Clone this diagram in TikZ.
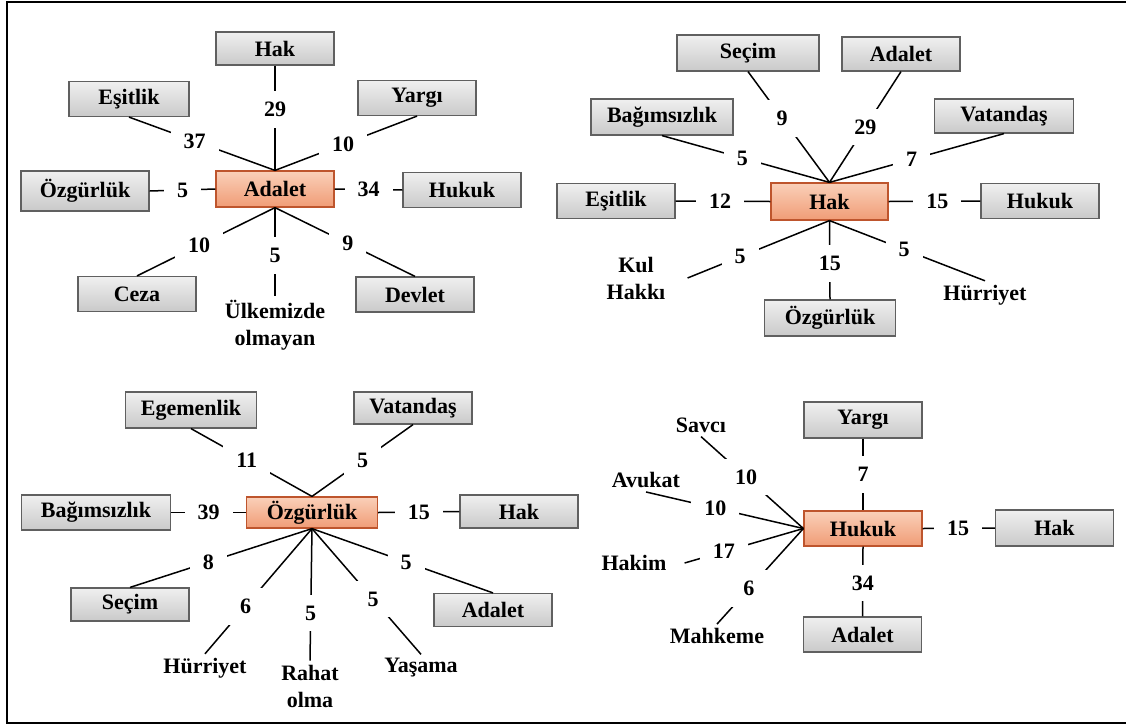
\documentclass[tikz,border=0pt]{standalone}
\usepackage{fontspec}
\setmainfont{Liberation Serif}
\definecolor{hubtop}{RGB}{250,208,185}
\definecolor{hubbottom}{RGB}{240,156,118}
\definecolor{hubline}{RGB}{190,85,45}
\newcommand{\wordfont}{\fontsize{22}{27}\selectfont\bfseries}

\begin{document}
\begin{tikzpicture}[
            x=1pt, y=-1pt,
            every node/.append style={black, font=\wordfont},
            termbox/.style={draw=gray!75!black, line width=1.2pt, top color=gray!12, bottom color=gray!42,
                minimum width=118pt, minimum height=35pt, inner xsep=4pt},
            centerbox/.style={draw=hubline, line width=1.2pt, top color=hubtop, bottom color=hubbottom,
                minimum width=118pt, minimum height=36pt, inner xsep=4pt},
            freq/.style={fill=white, inner xsep=13pt, inner ysep=11pt},
            freeword/.style={align=center, inner sep=4pt},
            link/.style={line width=1.5pt}
        ]
            \useasboundingbox (0,0) rectangle (1126,726);
            \draw[line width=2pt] (1126,1.5) -- (6.5,1.5) -- (6.5,723) -- (1126,723);

            \node[centerbox] (adalet1) at (275,189) {Adalet};
            \node[termbox, minimum height=33pt] (hak1) at (275,48.5) {Hak};
            \node[termbox, minimum width=120pt] (esitlik1) at (129,99) {Eşitlik};
            \node[termbox] (yargi1) at (417,98) {Yargı};
            \node[termbox, minimum width=128pt, minimum height=40pt] (ozgurluk1) at (85,191) {Özgürlük};
            \node[termbox] (hukuk1) at (462,190) {Hukuk};
            \node[termbox] (ceza1) at (137,294) {Ceza};
            \node[termbox] (devlet1) at (415,294.5) {Devlet};
            \node[freeword] (ulkemizde1) at (275,325) {Ülkemizde\\olmayan};
            \draw[link] (hak1.south) -- node[freq, pos=.42]{29} (adalet1.north);
            \draw[link] (esitlik1.south) -- node[freq, pos=.45]{37} (adalet1.north);
            \draw[link] (yargi1.south) -- node[freq, pos=.52]{10} (adalet1.north);
            \draw[link] (ozgurluk1.east) -- node[freq, pos=.5]{5} (adalet1.west);
            \draw[link] (hukuk1.west) -- node[freq, pos=.5]{34} (adalet1.east);
            \draw[link] (ceza1.north) -- node[freq, pos=.45]{10} (adalet1.south);
            \draw[link] (devlet1.north) -- node[freq, pos=.48]{9} (adalet1.south);
            \draw[link] (ulkemizde1.north) -- node[freq, pos=.46]{5} (adalet1.south);

            \node[centerbox, minimum width=117pt, minimum height=37pt] (hak2) at (829.5,201.5) {Hak};
            \node[termbox, minimum width=142pt, minimum height=36pt] (secim2) at (748,53) {Seçim};
            \node[termbox, minimum height=34pt] (adalet2) at (901,54) {Adalet};
            \node[termbox, minimum width=142pt, minimum height=36pt] (bagimsizlik2) at (662,117) {Bağımsızlık};
            \node[termbox, minimum width=139pt, minimum height=34pt] (vatandas2) at (1004,116) {Vatandaş};
            \node[termbox] (esitlik2) at (616,201) {Eşitlik};
            \node[termbox] (hukuk2) at (1040,201) {Hukuk};
            \node[termbox, minimum width=131pt, minimum height=36pt] (ozgurluk2) at (830,318) {Özgürlük};
            \node[freeword] (kulhakki2) at (636,278) {Kul\\Hakkı};
            \node[freeword] (hurriyet2) at (985,295) {Hürriyet};
            \draw[link] (secim2.south) -- node[freq, pos=.42]{9} (hak2.north);
            \draw[link] (adalet2.south) -- node[freq, pos=.5]{29} (hak2.north);
            \draw[link] (bagimsizlik2.south) -- node[freq, pos=.48]{5} (hak2.north);
            \draw[link] (vatandas2.south) -- node[freq, pos=.53]{7} (hak2.north);
            \draw[link] (esitlik2.east) -- node[freq, pos=.47]{12} (hak2.west);
            \draw[link] (hukuk2.west) -- node[freq, pos=.47]{15} (hak2.east);
            \draw[link] (ozgurluk2.north) -- node[freq, pos=.46]{15} (hak2.south);
            \draw[link] ([xshift=18pt]kulhakki2.east) -- node[freq, pos=.37]{5} (hak2.south);
            \draw[link] (hurriyet2.north) -- node[freq, pos=.52]{5} (hak2.south);

            \node[centerbox, minimum width=131pt, minimum height=31pt] (ozgurluk3) at (312,512.5) {Özgürlük};
            \node[termbox, minimum width=131pt, minimum height=36pt] (egemenlik3) at (191,410) {Egemenlik};
            \node[termbox, minimum height=32pt] (vatandas3) at (413,408) {Vatandaş};
            \node[termbox, minimum width=149pt] (bagimsizlik3) at (96,512.5) {Bağımsızlık};
            \node[termbox, minimum height=33pt] (hak3) at (519,511.5) {Hak};
            \node[termbox, minimum height=33pt] (secim3) at (130,604.5) {Seçim};
            \node[termbox, minimum height=33pt] (adalet3) at (493,610) {Adalet};
            \node[freeword] (hurriyet3) at (205,668) {Hürriyet};
            \node[freeword] (rahat3) at (310,686) {Rahat\\olma};
            \node[freeword] (yasama3) at (421,668) {Yaşama};
            \draw[link] (egemenlik3.south) -- node[freq, pos=.46]{11} (ozgurluk3.north);
            \draw[link] (vatandas3.south) -- node[freq, pos=.5]{5} (ozgurluk3.north);
            \draw[link] (bagimsizlik3.east) -- node[freq, pos=.5]{39} (ozgurluk3.west);
            \draw[link] (hak3.west) -- node[freq, pos=.5]{15} (ozgurluk3.east);
            \draw[link] (secim3.north) -- node[freq, pos=.43]{8} (ozgurluk3.south);
            \draw[link] (adalet3.north) -- node[freq, pos=.48]{5} (ozgurluk3.south);
            \draw[link] (hurriyet3.north) -- node[freq, pos=.38]{6} (ozgurluk3.south);
            \draw[link] (rahat3.north) -- node[freq, pos=.36]{5} (ozgurluk3.south);
            \draw[link] (yasama3.north) -- node[freq, pos=.44]{5} (ozgurluk3.south);

            \node[centerbox, minimum height=35pt] (hukuk4) at (863,528.5) {Hukuk};
            \node[termbox, minimum height=36pt] (yargi4) at (863,420) {Yargı};
            \node[termbox, minimum height=36pt] (hak4) at (1054.5,528) {Hak};
            \node[termbox] (adalet4) at (862.5,634.5) {Adalet};
            \node[freeword] (savci4) at (701,425) {Savcı};
            \node[freeword] (avukat4) at (646,480) {Avukat};
            \node[freeword] (hakim4) at (634,563) {Hakim};
            \node[freeword] (mahkeme4) at (717,636) {Mahkeme};
            \draw[link] (yargi4.south) -- node[freq, pos=.5]{7} (hukuk4.north);
            \draw[link] (adalet4.north) -- node[freq, pos=.48]{34} (hukuk4.south);
            \draw[link] (hak4.west) -- node[freq, pos=.51]{15} (hukuk4.east);
            \draw[link] (savci4.south) -- node[freq, pos=.44]{10} (hukuk4.west);
            \draw[link] (avukat4.south) -- node[freq, pos=.44]{10} (hukuk4.west);
            \draw[link] ([xshift=14pt]hakim4.east) -- node[freq, pos=.33]{17} (hukuk4.west);
            \draw[link] (mahkeme4.north) -- node[freq, pos=.37]{6} (hukuk4.west);
        \end{tikzpicture}
\end{document}
